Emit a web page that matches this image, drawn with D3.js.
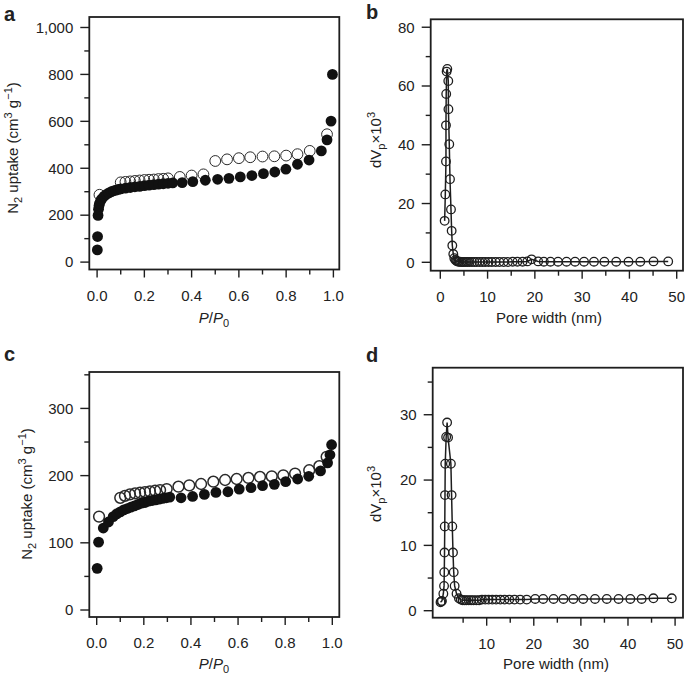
<!DOCTYPE html>
<html><head><meta charset="utf-8">
<script src="https://cdn.jsdelivr.net/npm/d3@7"></script>
<style>
body{margin:0;background:#fff}
svg{display:block}
text{font-family:"Liberation Sans",Arial,Helvetica,sans-serif;fill:#222}
</style>
</head><body>
<svg id="chart" width="685" height="677"></svg>
<script>
// ---------- Panel a: N2 isotherm (adsorption = filled, desorption = open) ----------
const aAdsX = [0.001,0.002,0.004,0.006,0.008,0.01,0.015,0.02,0.03,0.04,0.05,0.06,0.07,0.08,0.09,0.10,0.12,0.14,0.16,0.18,0.20,0.22,0.24,0.26,0.28,0.30,0.32,0.36,0.405,0.458,0.51,0.558,0.606,0.655,0.704,0.752,0.799,0.848,0.897,0.949,0.973,0.99,0.996];
const aAdsY = [52,109,199,225,240,250,262,270,281,289,295,300,304,307,310,312,315,318,321,323,326,328,330,332,334,336,338,339,343,349,353,357,363,369,377,384,396,417,435,474,521,601,800];
const aDesX = [0.01,0.10,0.12,0.14,0.16,0.18,0.20,0.22,0.24,0.26,0.28,0.30,0.35,0.40,0.45,0.50,0.55,0.60,0.648,0.70,0.75,0.80,0.848,0.90,0.973];
const aDesY = [287,340,342,344,346,348,350,351,352,354,355,357,363,369,374,431,438,443,447,450,451,454,460,474,545];
const aYTicks = [0,200,400,600,800,1000];
const aYLabels = ["0","200","400","600","800","1,000"];
const aYMinor = [100,300,500,700,900];

// ---------- Panel b: pore size distribution ----------
const bX = [0.92,1.06,1.2,1.2,1.25,1.34,1.48,1.69,1.72,1.9,2.05,2.26,2.4,2.54,2.75,2.96,
  3.2,3.4,3.6,3.85,4.1,4.4,4.7,5.0,5.4,5.8,6.2,6.7,7.2,7.7,8.3,8.9,9.5,10.2,10.9,11.7,12.5,13.4,14.3,15.3,16.3,17.4,18.4,19.3,
  20.7,21.9,23.3,24.9,26.7,28.5,30.4,32.5,34.7,37.2,39.8,42.3,45.1,48.2];
const bY = [14.1,23.1,34.3,46.6,57.3,64.9,65.8,61.7,52.1,40.2,28.3,18.0,10.7,5.7,2.8,1.4,
  0.8,0.5,0.3,0.2,0.2,0.1,0.1,0.1,0.1,0.1,0.1,0.1,0.1,0.1,0.1,0.1,0.1,0.1,0.1,0.1,0.1,0.1,0.1,0.2,0.2,0.2,0.3,1.0,
  0.3,0.2,0.2,0.2,0.2,0.2,0.2,0.2,0.2,0.2,0.2,0.2,0.3,0.3];
const bXTicks = [0,10,20,30,40,50];
const bXMinor = [5,15,25,35,45];
const bYTicks = [0,20,40,60,80];
const bYMinor = [10,30,50,70];

// ---------- Panel c: N2 isotherm ----------
const cAdsX = [0.002,0.008,0.028,0.05,0.07,0.085,0.10,0.115,0.13,0.145,0.16,0.175,0.19,0.205,0.22,0.235,0.25,0.265,0.28,0.295,0.31,0.358,0.407,0.457,0.506,0.557,0.605,0.655,0.704,0.754,0.802,0.853,0.90,0.95,0.98,0.99,0.997];
const cAdsY = [62,101,122,131,139,143,146,149,151,153,155,157,159,160,162,163,164,165,166,167,168,167,169,172,175,176,180,182,185,187,191,195,199,207,219,231,246];
const cDesX = [0.01,0.10,0.12,0.141,0.163,0.184,0.205,0.226,0.248,0.269,0.297,0.347,0.393,0.443,0.495,0.545,0.594,0.644,0.693,0.743,0.792,0.842,0.902,0.945,0.976];
const cDesY = [139,167,170,172,173.5,174.5,175.5,176.5,177.5,178.5,180,183.5,185.5,187.5,191,193.5,195,196.5,198,199,200.5,203,208,214,228];
const cYTicks = [0,100,200,300];
const cYLabels = ["0","100","200","300"];
const cYMinor = [50,150,250,350];

// ---------- Panel d: pore size distribution ----------
const dX = [0.2,0.35,0.5,0.8,0.95,1.0,1.05,1.1,1.15,1.2,1.4,1.6,1.8,2.4,2.55,2.7,2.85,3.0,3.2,3.6,
  4.1,4.5,4.9,5.3,5.7,6.2,6.7,7.2,7.8,8.4,9.0,9.7,10.4,11.2,12.0,12.9,13.8,14.8,15.9,17.1,
  18.5,20.3,22.0,24.2,26.3,28.4,30.5,33.0,35.5,38.0,40.5,42.9,45.4,49.3];
const dY = [1.3,1.4,1.5,2.6,3.8,5.9,8.9,12.9,17.7,22.5,26.6,28.8,26.5,22.5,17.7,12.9,8.9,5.9,3.8,2.6,
  1.9,1.7,1.6,1.6,1.6,1.6,1.6,1.6,1.6,1.6,1.7,1.7,1.7,1.7,1.7,1.7,1.7,1.7,1.7,1.7,
  1.7,1.8,1.8,1.8,1.8,1.8,1.8,1.8,1.8,1.8,1.8,1.8,1.9,1.9];
const dXTicks = [10,20,30,40,50];
const dXMinor = [5,15,25,35,45];
const dYTicks = [0,10,20,30];
const dYMinor = [5,15,25,35];

const pXTicks = [0,0.2,0.4,0.6,0.8,1.0];
const pXLabels = ["0.0","0.2","0.4","0.6","0.8","1.0"];
const pXMinor = [0.1,0.3,0.5,0.7,0.9];

const svg = d3.select("#chart");
const INK = "#1e1e1e";
const TICKFS = 15;

function panel(o) {
  const g = svg.append("g");
  const x = d3.scaleLinear().domain(o.xDom).range([o.L, o.R]);
  const y = d3.scaleLinear().domain(o.yDom).range([o.B, o.T]);
  const tk = g.append("g").attr("stroke", INK).attr("stroke-width", 1.4);
  o.yMajor.forEach(v => tk.append("line").attr("x1", o.L - 9).attr("x2", o.L).attr("y1", y(v)).attr("y2", y(v)));
  o.yMinor.forEach(v => tk.append("line").attr("x1", o.L - 5).attr("x2", o.L).attr("y1", y(v)).attr("y2", y(v)));
  o.xMajor.forEach(v => tk.append("line").attr("x1", x(v)).attr("x2", x(v)).attr("y1", o.B).attr("y2", o.B + 8));
  o.xMinor.forEach(v => tk.append("line").attr("x1", x(v)).attr("x2", x(v)).attr("y1", o.B).attr("y2", o.B + 5));
  o.yMajor.forEach((v, i) => g.append("text").attr("x", o.L - 16).attr("y", y(v) + 5.3)
    .attr("text-anchor", "end").attr("font-size", TICKFS).text(o.yLabels[i]));
  o.xMajor.forEach((v, i) => g.append("text").attr("x", x(v)).attr("y", o.B + 31)
    .attr("text-anchor", "middle").attr("font-size", TICKFS).text(o.xLabels[i]));
  g.append("rect").attr("x", o.L).attr("y", o.T).attr("width", o.R - o.L).attr("height", o.B - o.T)
    .attr("fill", "none").attr("stroke", INK).attr("stroke-width", 1.8);
  svg.append("text").attr("x", o.letterX).attr("y", o.letterY).attr("font-size", 20)
    .attr("font-weight", "bold").attr("fill", "#111").text(o.letter);
  return {g, x, y};
}

function isoTitles(p, o) {
  const t = p.g.append("text").attr("x", o.xt).attr("y", o.yt).attr("text-anchor", "middle").attr("font-size", 15);
  t.append("tspan").attr("font-style", "italic").text("P");
  t.append("tspan").text("/");
  t.append("tspan").attr("font-style", "italic").text("P");
  t.append("tspan").attr("dy", 4).attr("font-size", 11).text("0");
  const yt = p.g.append("text").attr("transform", `translate(${o.yx},${o.yy}) rotate(-90)`)
    .attr("text-anchor", "middle").attr("font-size", 15);
  yt.append("tspan").text("N");
  yt.append("tspan").attr("dy", 4).attr("font-size", 11).text("2");
  yt.append("tspan").attr("dy", -4).text(" uptake (cm");
  yt.append("tspan").attr("dy", -6).attr("font-size", 11).text("3");
  yt.append("tspan").attr("dy", 6).text(" g");
  yt.append("tspan").attr("dy", -6).attr("font-size", 11).text("\u22121");
  yt.append("tspan").attr("dy", 6).text(")");
}

function psdTitles(p, o) {
  p.g.append("text").attr("x", o.xt).attr("y", o.yt).attr("text-anchor", "middle").attr("font-size", 15).text("Pore width (nm)");
  const yt = p.g.append("text").attr("transform", `translate(${o.yx},${o.yy}) rotate(-90)`)
    .attr("text-anchor", "middle").attr("font-size", 15);
  yt.append("tspan").text("dV");
  yt.append("tspan").attr("dy", 4).attr("font-size", 11).text("p");
  yt.append("tspan").attr("dy", -4).text("\u00d710");
  yt.append("tspan").attr("dy", -6).attr("font-size", 11).text("3");
}

function isoMarks(p, adsX, adsY, desX, desY, openW) {
  p.g.append("g").selectAll("circle").data(desX).join("circle")
    .attr("cx", (d) => p.x(d)).attr("cy", (d, i) => p.y(desY[i])).attr("r", 5.4)
    .attr("fill", "none").attr("stroke", "#2a2a2a").attr("stroke-width", openW);
  p.g.append("g").selectAll("circle").data(adsX).join("circle")
    .attr("cx", (d) => p.x(d)).attr("cy", (d, i) => p.y(adsY[i])).attr("r", 5.4)
    .attr("fill", "#111");
}

function psdMarks(p, xs, ys) {
  const pts = xs.map((v, i) => [v, ys[i]]);
  p.g.append("path").datum(pts)
    .attr("d", d3.line().x(d => p.x(d[0])).y(d => p.y(d[1])))
    .attr("fill", "none").attr("stroke", INK).attr("stroke-width", 1.5);
  p.g.append("g").selectAll("circle").data(pts).join("circle")
    .attr("cx", d => p.x(d[0])).attr("cy", d => p.y(d[1])).attr("r", 4.3)
    .attr("fill", "none").attr("stroke", INK).attr("stroke-width", 1.3);
}

const pa = panel({L: 89.3, R: 339.3, T: 17, B: 269.5,
  xDom: [-0.0330, 1.0250], yDom: [-31.5, 1044.7],
  xMajor: pXTicks, xLabels: pXLabels, xMinor: pXMinor,
  yMajor: aYTicks, yLabels: aYLabels, yMinor: aYMinor,
  letter: "a", letterX: 4, letterY: 21});
isoTitles(pa, {xt: 214, yt: 323, yx: 18, yy: 148});
isoMarks(pa, aAdsX, aAdsY, aDesX, aDesY, 1.0);

const pb = panel({L: 430.7, R: 683, T: 19.3, B: 270.7,
  xDom: [-2.03, 51.33], yDom: [-2.86, 82.7],
  xMajor: bXTicks, xLabels: bXTicks.map(String), xMinor: bXMinor,
  yMajor: bYTicks, yLabels: bYTicks.map(String), yMinor: bYMinor,
  letter: "b", letterX: 366, letterY: 19});
psdTitles(pb, {xt: 549, yt: 323, yx: 381, yy: 140});
psdMarks(pb, bX, bY);

const pc = panel({L: 89.3, R: 339.3, T: 372, B: 617,
  xDom: [-0.0314, 1.0297], yDom: [-10.4, 354.2],
  xMajor: pXTicks, xLabels: pXLabels, xMinor: pXMinor,
  yMajor: cYTicks, yLabels: cYLabels, yMinor: cYMinor,
  letter: "c", letterX: 4, letterY: 361});
isoTitles(pc, {xt: 214, yt: 669, yx: 32, yy: 494});
isoMarks(pc, cAdsX, cAdsY, cDesX, cDesY, 1.5);

const pd = panel({L: 432.7, R: 683, T: 367.7, B: 617.7,
  xDom: [-1.46, 51.68], yDom: [-1.07, 37.2],
  xMajor: dXTicks, xLabels: dXTicks.map(String), xMinor: dXMinor,
  yMajor: dYTicks, yLabels: dYTicks.map(String), yMinor: dYMinor,
  letter: "d", letterX: 366, letterY: 362});
psdTitles(pd, {xt: 556, yt: 669, yx: 381, yy: 494});
psdMarks(pd, dX, dY);
</script>
</body></html>
